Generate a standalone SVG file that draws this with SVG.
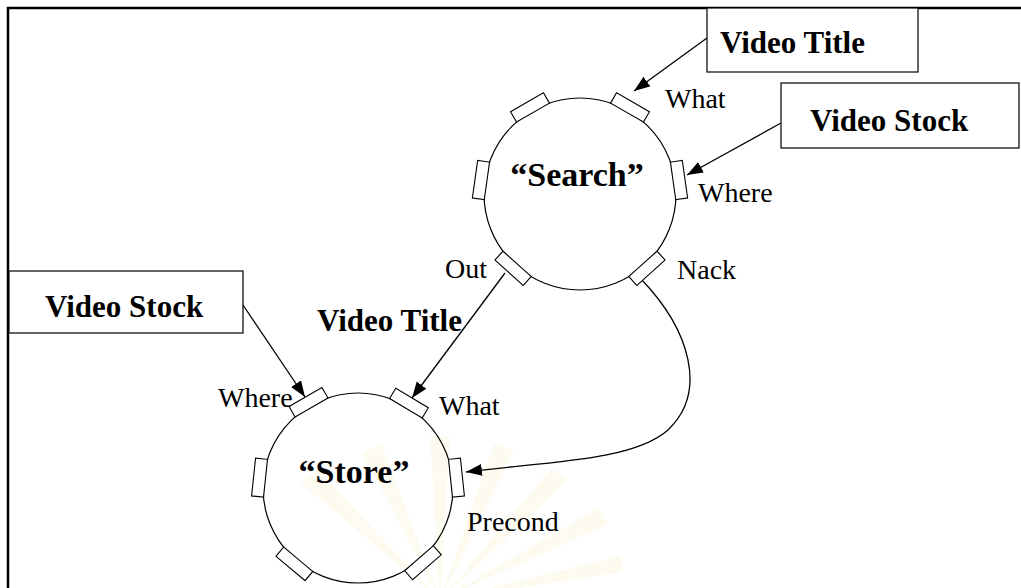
<svg xmlns="http://www.w3.org/2000/svg" width="1021" height="588" viewBox="0 0 1021 588">
  <style>
    .frame { stroke: #000; stroke-width: 2.5; fill: none; }
    .box { fill: #fff; stroke: #000; stroke-width: 1.2; }
    .proc { fill: none; stroke: #000; stroke-width: 1.2; }
    .port { fill: #fff; stroke: #000; stroke-width: 1.1; }
    .wire { fill: none; stroke: #000; stroke-width: 1.3; marker-end: url(#head); }
    .lbl { font-family: "Liberation Serif", "Times New Roman", serif; font-size: 28px; fill: #000; }
    .bold { font-family: "Liberation Serif", "Times New Roman", serif; font-size: 31px; font-weight: bold; fill: #000; }
    .name { font-family: "Liberation Serif", "Times New Roman", serif; font-size: 34px; font-weight: bold; fill: #000; text-anchor: middle; }
    .ray { fill: #fcf7e0; opacity: 0.5; }
  </style>
  <defs>
    <marker id="head" markerUnits="userSpaceOnUse" markerWidth="17" markerHeight="13" refX="16" refY="6" orient="auto">
      <path d="M0,0 L16,6 L0,12 z" fill="#000"/>
    </marker>
  </defs>

  <rect width="1021" height="588" fill="#fff"/>

  <!-- faint background sunburst -->
  <g id="sunburst">
    <path class="ray" d="M440,600 L300,482 L318,470 Z"/>
    <path class="ray" d="M440,600 L362,452 L382,445 Z"/>
    <path class="ray" d="M440,600 L430,436 L450,436 Z"/>
    <path class="ray" d="M440,600 L494,444 L514,450 Z"/>
    <path class="ray" d="M440,600 L552,468 L568,480 Z"/>
    <path class="ray" d="M440,600 L598,508 L608,524 Z"/>
    <path class="ray" d="M440,600 L620,556 L623,572 Z"/>
  </g>

  <!-- outer frame (top and left edges) -->
  <path class="frame" d="M8,588 L8,8 L1021,8"/>

  <!-- data boxes -->
  <g id="box-title-top">
    <rect class="box" x="707" y="8" width="211" height="64"/>
    <text class="bold" x="720" y="53">Video Title</text>
  </g>
  <g id="box-stock-top">
    <rect class="box" x="781" y="83" width="238" height="65"/>
    <text class="bold" x="810" y="131">Video Stock</text>
  </g>
  <g id="box-stock-left">
    <rect class="box" x="9" y="271" width="234" height="62"/>
    <text class="bold" x="45" y="317">Video Stock</text>
  </g>

  <!-- connectors -->
  <g id="connectors">
    <path class="wire" d="M707,38 L634,91"/>
    <path class="wire" d="M781,123 L687,175"/>
    <path class="wire" d="M505,273 L412,398"/>
    <path class="wire" d="M243,305 L305,397"/>
    <path class="wire" d="M641,279 C690,330 708,392 668,430 C632,462 540,462 466,472"/>
    <text class="bold" x="317" y="331">Video Title</text>
  </g>

  <!-- process "Search" -->
  <g id="search">
    <circle class="proc" cx="580" cy="194" r="96"/>
    <g transform="translate(580,194)">
      <rect class="port" x="94" y="-19" width="12" height="38" transform="rotate(-120)"/>
      <rect class="port" x="94" y="-19" width="12" height="38" transform="rotate(-60)"/>
      <rect class="port" x="94" y="-19" width="12" height="38" transform="rotate(-8)"/>
      <rect class="port" x="94" y="-19" width="12" height="38" transform="rotate(188)"/>
      <rect class="port" x="94" y="-19" width="12" height="38" transform="rotate(48)"/>
      <rect class="port" x="94" y="-19" width="12" height="38" transform="rotate(132)"/>
    </g>
    <text class="name" x="577" y="186">“Search”</text>
    <text class="lbl" x="665" y="108">What</text>
    <text class="lbl" x="698" y="202">Where</text>
    <text class="lbl" x="445" y="278">Out</text>
    <text class="lbl" x="677" y="279">Nack</text>
  </g>

  <!-- process "Store" -->
  <g id="store">
    <circle class="proc" cx="358" cy="488" r="95"/>
    <g transform="translate(358,488)">
      <rect class="port" x="93" y="-19" width="12" height="38" transform="rotate(-120)"/>
      <rect class="port" x="93" y="-19" width="12" height="38" transform="rotate(-59)"/>
      <rect class="port" x="93" y="-19" width="12" height="38" transform="rotate(-6)"/>
      <rect class="port" x="93" y="-19" width="12" height="38" transform="rotate(186)"/>
      <rect class="port" x="93" y="-19" width="12" height="38" transform="rotate(49)"/>
      <rect class="port" x="93" y="-19" width="12" height="38" transform="rotate(130)"/>
    </g>
    <text class="name" x="354" y="483">“Store”</text>
    <text class="lbl" x="218" y="407">Where</text>
    <text class="lbl" x="439" y="415">What</text>
    <text class="lbl" x="467" y="531">Precond</text>
  </g>
</svg>
